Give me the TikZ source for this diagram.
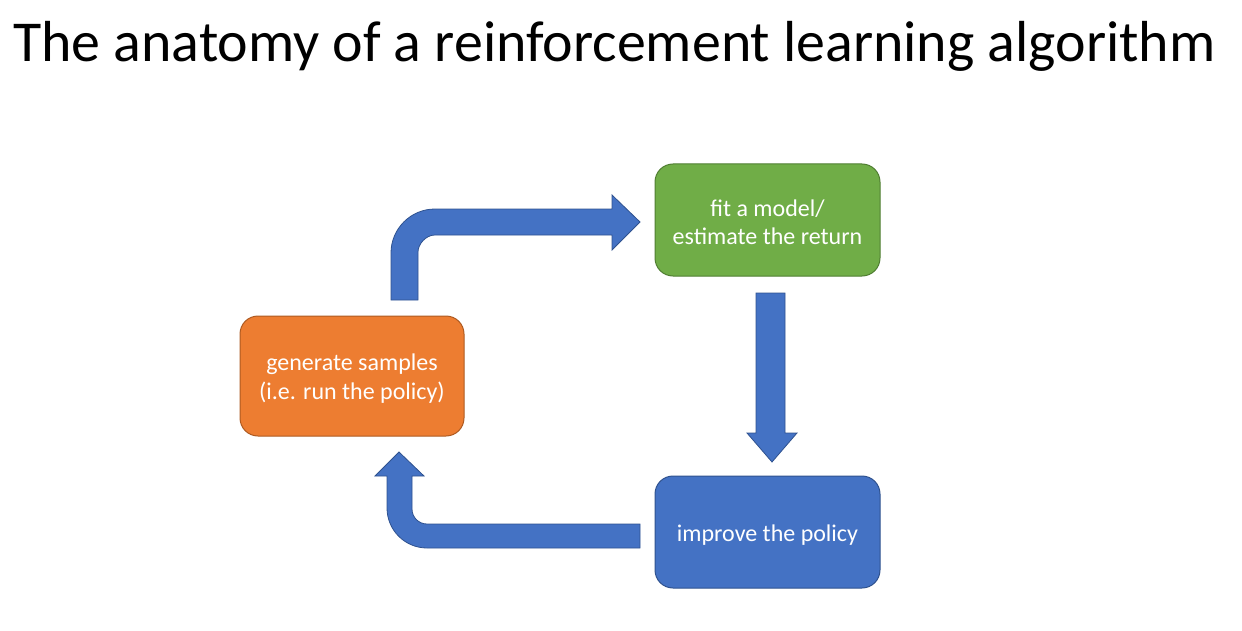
\documentclass[tikz,border=0pt]{standalone}
\usepackage{fontspec}
\setmainfont{Carlito}
\definecolor{cblue}{HTML}{4472C4}
\definecolor{cblueedge}{HTML}{2F528F}
\definecolor{corange}{HTML}{ED7D31}
\definecolor{corangeedge}{HTML}{AE5A21}
\definecolor{cgreen}{HTML}{70AD47}
\definecolor{cgreenedge}{HTML}{507E32}
\tikzset{
  stagebox/.style={rectangle, rounded corners=13.5pt, line width=0.75pt, inner sep=0pt},
  stagetext/.style={text=white, align=center, inner sep=0pt,
    font=\fontsize{18}{21.5}\selectfont},
  blockarrow/.style={fill=cblue, draw=cblueedge, line width=0.6pt, line join=miter},
}
\begin{document}
\begin{tikzpicture}[x=0.75pt, y=-0.75pt]
\useasboundingbox (0,0) rectangle (1242,631);

\node[anchor=base west, inner sep=0pt, font=\fontsize{43.4}{52}\selectfont] (title) at (13,62)
  {The anatomy of a reinforcement learning algorithm};

\node[stagebox, fill=cgreen, draw=cgreenedge, minimum width=168.75pt, minimum height=84pt] (fit) at (767.5,220) {};
\node[stagetext] (fittext) at ([yshift=-1.8pt]fit.center) {fit a model/\\estimate the return};
\node[stagebox, fill=corange, draw=corangeedge, minimum width=168pt, minimum height=90pt] (gen) at (352,376) {};
\node[stagetext] (gentext) at ([yshift=-2pt]gen.center) {generate samples\\(i.e. run the policy)};
\node[stagebox, fill=cblue, draw=cblueedge, minimum width=168.75pt, minimum height=84pt] (imp) at (767.5,532) {};
\node[stagetext] (imptext) at ([yshift=-2pt]imp.center) {improve the policy};

% generate -> fit
\path[blockarrow] (391,300) -- (391,253) .. controls (391,228.7) and (410.7,209) .. (435,209)
  -- (612,209) -- (612,195) -- (640,222) -- (612,250) -- (612,235) -- (435,235)
  .. controls (425.6,235) and (418,244.4) .. (418,252) -- (418,300) -- cycle;

% fit -> improve
\path[blockarrow] (756,293) -- (785,293) -- (785,433) -- (797,433) -- (772,462)
  -- (747,433) -- (756,433) -- cycle;

% improve -> generate
\path[blockarrow] (640,524) -- (427,524) .. controls (418.7,524) and (412,517.3) .. (412,509)
  -- (412,476) -- (424,476) -- (399,452) -- (375,476) -- (387,476) -- (387,508)
  .. controls (387,530.1) and (404.9,548) .. (427,548) -- (640,548) -- cycle;
\end{tikzpicture}
\end{document}
